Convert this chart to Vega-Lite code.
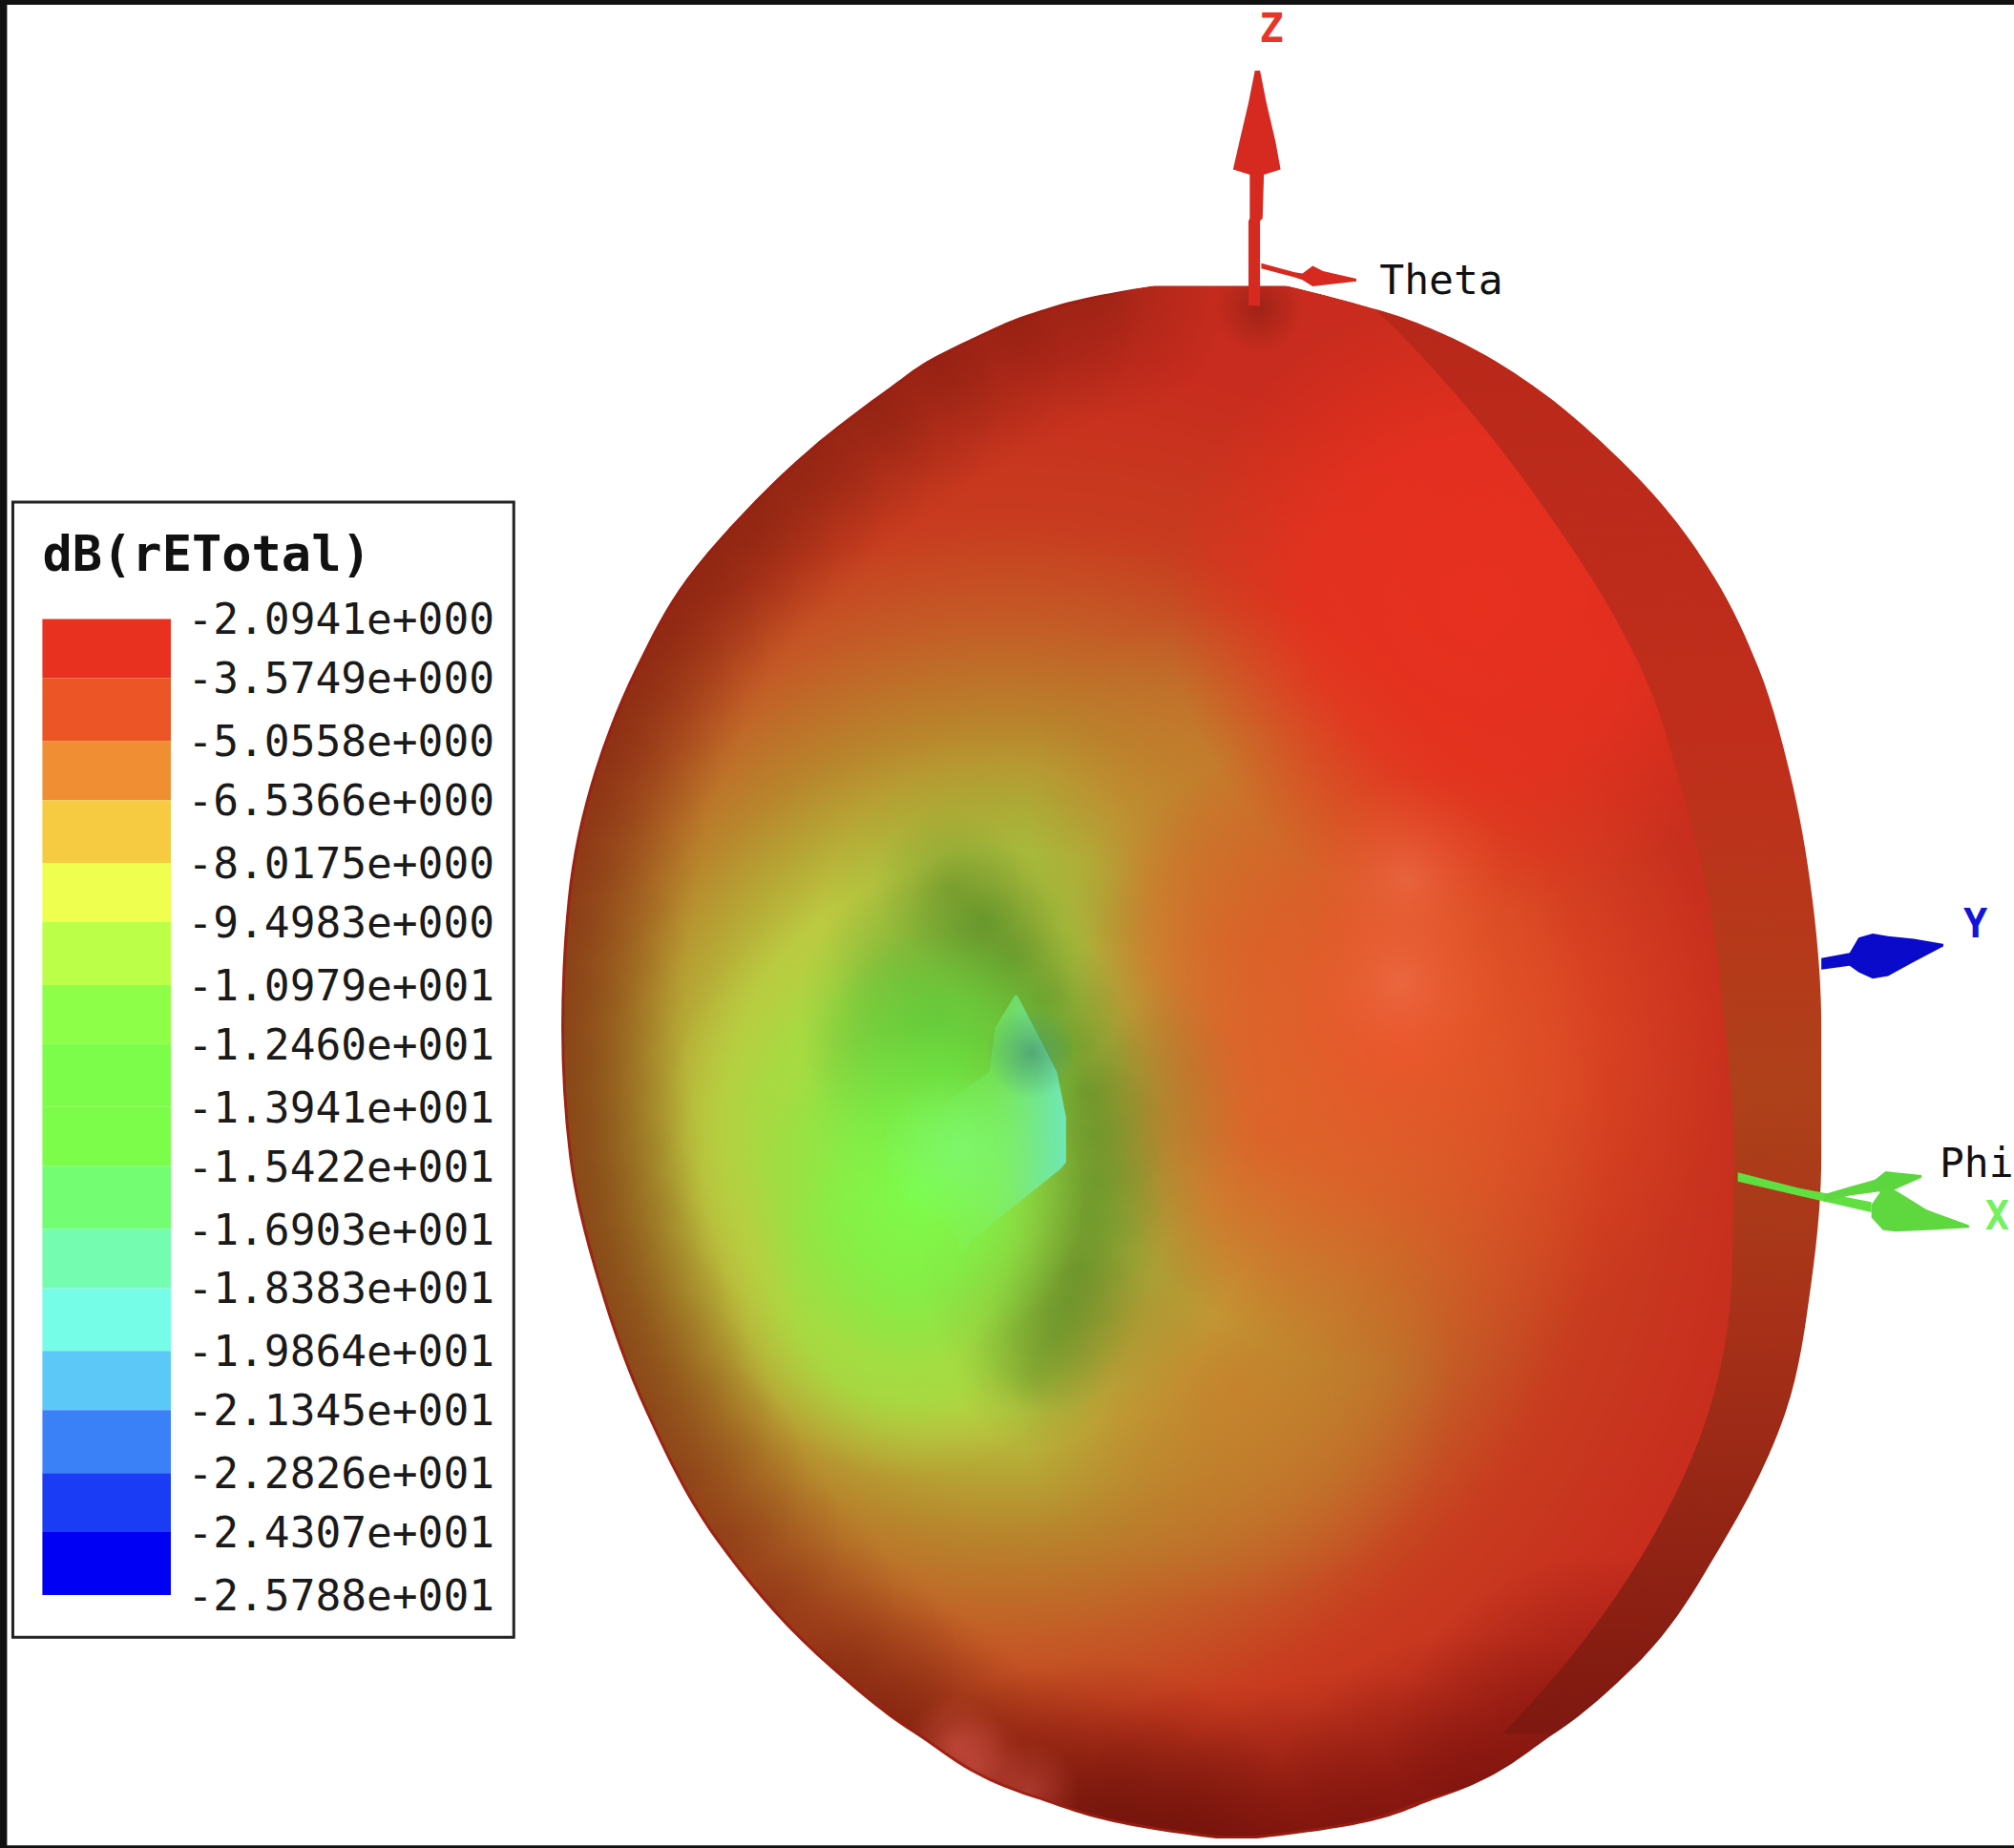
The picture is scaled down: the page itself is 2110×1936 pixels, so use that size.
{
"$schema":"https://vega.github.io/schema/vega-lite/v6.json",
"width":2110,"height":1936,"padding":0,"autosize":{"type":"none"},
"background":"#ffffff",
"config":{"view":{"stroke":null}},
"datasets":{
"outline":[{"y":222,"x":900,"x2":1000},{"y":232,"x":845,"x2":1040},{"y":245,"x":800,"x2":1085},{"y":262,"x":760,"x2":1128},{"y":281,"x":722,"x2":1164},{"y":300,"x":695,"x2":1193},{"y":350,"x":630,"x2":1253},{"y":400,"x":578,"x2":1300},{"y":450,"x":535,"x2":1335},{"y":520,"x":495,"x2":1369},{"y":600,"x":463,"x2":1393},{"y":700,"x":442,"x2":1411},{"y":800,"x":437,"x2":1418},{"y":900,"x":443,"x2":1418},{"y":1000,"x":466,"x2":1410},{"y":1100,"x":503,"x2":1390},{"y":1200,"x":558,"x2":1342},{"y":1300,"x":648,"x2":1270},{"y":1350,"x":712,"x2":1210},{"y":1400,"x":805,"x2":1120},{"y":1425,"x":900,"x2":1030},{"y":1432,"x":950,"x2":975}],
"rimPath":[{"y":170,"x":1000,"x2":1620},{"y":190,"x":930,"x2":1620},{"y":222,"x":885,"x2":1620},{"y":232,"x":845,"x2":1620},{"y":245,"x":800,"x2":1620},{"y":262,"x":760,"x2":1620},{"y":281,"x":722,"x2":1620},{"y":300,"x":695,"x2":1620},{"y":350,"x":630,"x2":1620},{"y":400,"x":578,"x2":1620},{"y":450,"x":535,"x2":1620},{"y":520,"x":495,"x2":1620},{"y":600,"x":463,"x2":1620},{"y":700,"x":442,"x2":1620},{"y":800,"x":437,"x2":1620},{"y":900,"x":443,"x2":1620},{"y":1000,"x":466,"x2":1620},{"y":1100,"x":503,"x2":1620},{"y":1200,"x":558,"x2":1620},{"y":1300,"x":648,"x2":1500},{"y":1350,"x":712,"x2":1300},{"y":1400,"x":805,"x2":1120},{"y":1425,"x":900,"x2":1030},{"y":1432,"x":950,"x2":975}],
"sideband":[{"y":240,"x":1070,"x2":1500},{"y":262,"x":1092,"x2":1500},{"y":329,"x":1152,"x2":1500},{"y":401,"x":1206,"x2":1500},{"y":470,"x":1251,"x2":1500},{"y":545,"x":1288,"x2":1500},{"y":600,"x":1305,"x2":1500},{"y":700,"x":1330,"x2":1500},{"y":800,"x":1343,"x2":1500},{"y":900,"x":1350,"x2":1500},{"y":1000,"x":1348,"x2":1500},{"y":1100,"x":1330,"x2":1500},{"y":1200,"x":1285,"x2":1500},{"y":1300,"x":1215,"x2":1500},{"y":1350,"x":1170,"x2":1500}],
"cone":[{"y":775,"x":790,"x2":792},{"y":800,"x":775,"x2":805},{"y":835,"x":770,"x2":823},{"y":870,"x":720,"x2":830},{"y":905,"x":690,"x2":830},{"y":910,"x":705,"x2":826},{"y":965,"x":745,"x2":757},{"y":975,"x":748,"x2":750}],
"rimGlow":[{"x":760,"x2":960,"y":128,"y2":328},{"x":690,"x2":890,"y":150,"y2":350},{"x":630,"x2":830,"y":180,"y2":380},{"x":580,"x2":780,"y":215,"y2":415},{"x":530,"x2":730,"y":250,"y2":450},{"x":490,"x2":690,"y":290,"y2":490},{"x":455,"x2":655,"y":325,"y2":525},{"x":425,"x2":625,"y":365,"y2":565},{"x":400,"x2":600,"y":410,"y2":610},{"x":380,"x2":580,"y":455,"y2":655},{"x":362,"x2":562,"y":500,"y2":700},{"x":350,"x2":550,"y":550,"y2":750},{"x":342,"x2":542,"y":600,"y2":800},{"x":338,"x2":538,"y":650,"y2":850},{"x":337,"x2":537,"y":700,"y2":900},{"x":340,"x2":540,"y":750,"y2":950},{"x":347,"x2":547,"y":800,"y2":1000},{"x":353,"x2":553,"y":850,"y2":1050},{"x":366,"x2":566,"y":900,"y2":1100},{"x":383,"x2":583,"y":950,"y2":1150},{"x":403,"x2":603,"y":1000,"y2":1200},{"x":428,"x2":628,"y":1050,"y2":1250},{"x":458,"x2":658,"y":1100,"y2":1300},{"x":500,"x2":700,"y":1150,"y2":1350},{"x":548,"x2":748,"y":1200,"y2":1400},{"x":580,"x2":780,"y":1230,"y2":1430},{"x":610,"x2":810,"y":1250,"y2":1450},{"x":655,"x2":855,"y":1280,"y2":1480},{"x":705,"x2":905,"y":1300,"y2":1500},{"x":760,"x2":960,"y":1320,"y2":1520},{"x":820,"x2":1020,"y":1335,"y2":1535}],
"bottomGlow":[{"x":680,"x2":1020,"y":1290,"y2":1630},{"x":780,"x2":1120,"y":1310,"y2":1650},{"x":880,"x2":1220,"y":1300,"y2":1640},{"x":980,"x2":1320,"y":1270,"y2":1610},{"x":1080,"x2":1420,"y":1210,"y2":1550}],
"ridge":[{"x":680,"x2":800,"y":630,"y2":750},{"x":705,"x2":825,"y":655,"y2":775},{"x":730,"x2":850,"y":685,"y2":805},{"x":752,"x2":872,"y":720,"y2":840},{"x":770,"x2":890,"y":755,"y2":875},{"x":785,"x2":905,"y":790,"y2":910},{"x":792,"x2":912,"y":825,"y2":945},{"x":793,"x2":913,"y":860,"y2":980},{"x":790,"x2":910,"y":890,"y2":1010},{"x":782,"x2":902,"y":925,"y2":1045},{"x":772,"x2":892,"y":955,"y2":1075},{"x":760,"x2":880,"y":980,"y2":1100},{"x":745,"x2":865,"y":1010,"y2":1130}],
"ridgeHalo":[{"x":640,"x2":900,"y":590,"y2":850},{"x":730,"x2":970,"y":740,"y2":980},{"x":715,"x2":955,"y":870,"y2":1110}],
"legendBands":[
{"level":"-2.0941e+000","top":482,"bottom":528},{"level":"-3.5749e+000","top":528,"bottom":577},{"level":"-5.0558e+000","top":577,"bottom":623},{"level":"-6.5366e+000","top":623,"bottom":672},{"level":"-8.0175e+000","top":672,"bottom":718},{"level":"-9.4983e+000","top":718,"bottom":767},{"level":"-1.0979e+001","top":767,"bottom":813},{"level":"-1.2460e+001","top":813,"bottom":862},{"level":"-1.3941e+001","top":862,"bottom":908},{"level":"-1.5422e+001","top":908,"bottom":957},{"level":"-1.6903e+001","top":957,"bottom":1003},{"level":"-1.8383e+001","top":1003,"bottom":1052},{"level":"-1.9864e+001","top":1052,"bottom":1098},{"level":"-2.1345e+001","top":1098,"bottom":1147},{"level":"-2.2826e+001","top":1147,"bottom":1193},{"level":"-2.4307e+001","top":1193,"bottom":1242}],
"legendLabels":[
{"label":"-2.0941e+000","y":482},{"label":"-3.5749e+000","y":528},{"label":"-5.0558e+000","y":577},{"label":"-6.5366e+000","y":623},{"label":"-8.0175e+000","y":672},{"label":"-9.4983e+000","y":718},{"label":"-1.0979e+001","y":767},{"label":"-1.2460e+001","y":813},{"label":"-1.3941e+001","y":862},{"label":"-1.5422e+001","y":908},{"label":"-1.6903e+001","y":957},{"label":"-1.8383e+001","y":1003},{"label":"-1.9864e+001","y":1052},{"label":"-2.1345e+001","y":1098},{"label":"-2.2826e+001","y":1147},{"label":"-2.4307e+001","y":1193},{"label":"-2.5788e+001","y":1242}],
"zArrow":[{"y":55,"x":977,"x2":981},{"y":80,"x":972,"x2":986},{"y":110,"x":965,"x2":993},{"y":132,"x":960,"x2":997},{"y":136,"x":973,"x2":984},{"y":170,"x":973,"x2":983},{"y":172,"x":972,"x2":981},{"y":238,"x":972,"x2":981}],
"thetaArrow":[{"x":982,"y":205,"y2":209},{"x":1008,"y":212,"y2":216},{"x":1014,"y":213,"y2":218},{"x":1022,"y":207,"y2":223},{"x":1030,"y":211,"y2":222},{"x":1056,"y":217,"y2":219}],
"blueArrow":[{"x":1418,"y":746,"y2":755},{"x":1440,"y":742,"y2":752},{"x":1447,"y":730,"y2":757},{"x":1458,"y":727,"y2":762},{"x":1470,"y":729,"y2":760},{"x":1490,"y":731,"y2":749},{"x":1513,"y":735,"y2":737}],
"greenStem":[{"x":1353,"y":913,"y2":920},{"x":1400,"y":925,"y2":931},{"x":1457,"y":936,"y2":944}],
"greenStem2":[{"x":1420,"y":930,"y2":936},{"x":1440,"y":924,"y2":931},{"x":1462,"y":918,"y2":928}],
"greenCone":[{"x":1457,"y":938,"y2":948},{"x":1466,"y":925,"y2":958},{"x":1476,"y":927,"y2":959},{"x":1500,"y":942,"y2":958},{"x":1533,"y":954,"y2":956}],
"greenCone2":[{"x":1458,"y":920,"y2":926},{"x":1468,"y":912,"y2":930},{"x":1476,"y":913,"y2":926},{"x":1496,"y":915,"y2":917}]
},
"encoding":{
"x":{"type":"quantitative","scale":{"domain":[0,1568],"nice":false,"zero":false},"axis":null},
"y":{"type":"quantitative","scale":{"domain":[1439,0],"nice":false,"zero":false},"axis":null}
},
"layer":[
{"data":{"name":"outline"},
 "mark":{"type":"area","orient":"horizontal","interpolate":"monotone",
  "fill":{"gradient":"radial","x1":0.378,"y1":0.544,"r1":0,"x2":0.378,"y2":0.544,"r2":1,
   "stops":[{"offset":0,"color":"#bccf42"},{"offset":0.18,"color":"#bcc840"},{"offset":0.215,"color":"#b6aa36"},{"offset":0.26,"color":"#b8852c"},{"offset":0.33,"color":"#c45a26"},{"offset":0.39,"color":"#c83c1f"},{"offset":0.5,"color":"#c82c1e"},{"offset":1,"color":"#cc2c1e"}]}},
 "encoding":{"x":{"field":"x"},"x2":{"field":"x2"},"y":{"field":"y"}}},

{"data":{"values":[{"x":840,"x2":1130,"y":740,"y2":1030},{"x":800,"x2":1120,"y":470,"y2":790},{"x":790,"x2":1130,"y":910,"y2":1250},{"x":830,"x2":1090,"y":600,"y2":860}]},
 "mark":{"type":"rect","fill":{"gradient":"radial","x1":0.5,"y1":0.5,"r1":0,"x2":0.5,"y2":0.5,"r2":0.5,
  "stops":[{"offset":0,"color":"rgba(200,125,44,0.85)"},{"offset":0.55,"color":"rgba(197,122,44,0.5)"},{"offset":1,"color":"rgba(190,120,46,0)"}]}},
 "encoding":{"x":{"field":"x"},"x2":{"field":"x2"},"y":{"field":"y"},"y2":{"field":"y2"}}},

{"data":{"values":[{"x":515,"x2":895,"y":690,"y2":1070},{"x":560,"x2":850,"y":860,"y2":1150}]},
 "mark":{"type":"rect","fill":{"gradient":"radial","x1":0.5,"y1":0.5,"r1":0,"x2":0.5,"y2":0.5,"r2":0.5,
  "stops":[{"offset":0,"color":"rgba(146,232,68,1)"},{"offset":0.6,"color":"rgba(160,224,66,0.7)"},{"offset":1,"color":"rgba(188,207,66,0)"}]}},
 "encoding":{"x":{"field":"x"},"x2":{"field":"x2"},"y":{"field":"y"},"y2":{"field":"y2"}}},

{"data":{"values":[{"x":620,"x2":840,"y":680,"y2":900}]},
 "mark":{"type":"rect","fill":{"gradient":"radial","x1":0.5,"y1":0.5,"r1":0,"x2":0.5,"y2":0.5,"r2":0.5,
  "stops":[{"offset":0,"color":"rgba(108,190,58,0.9)"},{"offset":0.55,"color":"rgba(115,190,58,0.55)"},{"offset":1,"color":"rgba(130,190,60,0)"}]}},
 "encoding":{"x":{"field":"x"},"x2":{"field":"x2"},"y":{"field":"y"},"y2":{"field":"y2"}}},

{"data":{"values":[{"x":830,"x2":1350,"y":550,"y2":1070}]},
 "mark":{"type":"rect","fill":{"gradient":"radial","x1":0.5,"y1":0.5,"r1":0,"x2":0.5,"y2":0.5,"r2":0.5,
  "stops":[{"offset":0,"color":"rgba(236,84,42,0.95)"},{"offset":0.5,"color":"rgba(234,74,38,0.6)"},{"offset":1,"color":"rgba(232,60,32,0)"}]}},
 "encoding":{"x":{"field":"x"},"x2":{"field":"x2"},"y":{"field":"y"},"y2":{"field":"y2"}}},
{"data":{"values":[{"x":910,"x2":1390,"y":230,"y2":710}]},
 "mark":{"type":"rect","fill":{"gradient":"radial","x1":0.5,"y1":0.5,"r1":0,"x2":0.5,"y2":0.5,"r2":0.5,
  "stops":[{"offset":0,"color":"rgba(232,48,31,1)"},{"offset":0.55,"color":"rgba(232,48,31,0.8)"},{"offset":1,"color":"rgba(232,48,31,0)"}]}},
 "encoding":{"x":{"field":"x"},"x2":{"field":"x2"},"y":{"field":"y"},"y2":{"field":"y2"}}},
{"data":{"values":[{"x":1015,"x2":1175,"y":605,"y2":765},{"x":1005,"x2":1175,"y":680,"y2":850}]},
 "mark":{"type":"rect","fill":{"gradient":"radial","x1":0.5,"y1":0.5,"r1":0,"x2":0.5,"y2":0.5,"r2":0.5,
  "stops":[{"offset":0,"color":"rgba(240,112,78,0.6)"},{"offset":0.5,"color":"rgba(238,96,60,0.3)"},{"offset":1,"color":"rgba(236,84,42,0)"}]}},
 "encoding":{"x":{"field":"x"},"x2":{"field":"x2"},"y":{"field":"y"},"y2":{"field":"y2"}}},

{"data":{"name":"ridgeHalo"},
 "mark":{"type":"rect","fill":{"gradient":"radial","x1":0.5,"y1":0.5,"r1":0,"x2":0.5,"y2":0.5,"r2":0.5,
  "stops":[{"offset":0,"color":"rgba(90,130,40,0.4)"},{"offset":0.5,"color":"rgba(95,130,40,0.22)"},{"offset":1,"color":"rgba(100,130,45,0)"}]}},
 "encoding":{"x":{"field":"x"},"x2":{"field":"x2"},"y":{"field":"y"},"y2":{"field":"y2"}}},
{"data":{"name":"ridge"},
 "mark":{"type":"rect","fill":{"gradient":"radial","x1":0.5,"y1":0.5,"r1":0,"x2":0.5,"y2":0.5,"r2":0.5,
  "stops":[{"offset":0,"color":"rgba(55,120,28,0.27)"},{"offset":0.5,"color":"rgba(60,122,30,0.12)"},{"offset":1,"color":"rgba(65,125,32,0)"}]}},
 "encoding":{"x":{"field":"x"},"x2":{"field":"x2"},"y":{"field":"y"},"y2":{"field":"y2"}}},

{"data":{"values":[{"x":625,"x2":845,"y":725,"y2":945}]},
 "mark":{"type":"rect","fill":{"gradient":"radial","x1":0.5,"y1":0.5,"r1":0,"x2":0.5,"y2":0.5,"r2":0.5,
  "stops":[{"offset":0,"color":"rgba(96,218,60,0.85)"},{"offset":0.55,"color":"rgba(100,215,60,0.5)"},{"offset":1,"color":"rgba(100,205,60,0)"}]}},
 "encoding":{"x":{"field":"x"},"x2":{"field":"x2"},"y":{"field":"y"},"y2":{"field":"y2"}}},
{"data":{"values":[{"x":585,"x2":845,"y":800,"y2":1060}]},
 "mark":{"type":"rect","fill":{"gradient":"radial","x1":0.5,"y1":0.5,"r1":0,"x2":0.5,"y2":0.5,"r2":0.5,
  "stops":[{"offset":0,"color":"rgba(124,253,74,1)"},{"offset":0.5,"color":"rgba(124,245,72,0.65)"},{"offset":1,"color":"rgba(130,230,70,0)"}]}},
 "encoding":{"x":{"field":"x"},"x2":{"field":"x2"},"y":{"field":"y"},"y2":{"field":"y2"}}},

{"data":{"name":"cone"},
 "mark":{"type":"area","orient":"horizontal","fill":{"gradient":"linear","x1":0,"y1":0.5,"x2":1,"y2":0.5,
  "stops":[{"offset":0,"color":"rgba(124,253,100,0)"},{"offset":0.3,"color":"rgba(124,253,110,0.05)"},{"offset":0.6,"color":"rgba(120,250,130,0.35)"},{"offset":0.8,"color":"rgba(115,240,150,0.78)"},{"offset":1,"color":"#6fe8b8"}]}},
 "encoding":{"x":{"field":"x"},"x2":{"field":"x2"},"y":{"field":"y"}}},
{"data":{"values":[{"x":685,"x2":805,"y":835,"y2":955}]},
 "mark":{"type":"rect","fill":{"gradient":"radial","x1":0.5,"y1":0.5,"r1":0,"x2":0.5,"y2":0.5,"r2":0.5,
  "stops":[{"offset":0,"color":"rgba(125,250,125,0.6)"},{"offset":1,"color":"rgba(125,250,125,0)"}]}},
 "encoding":{"x":{"field":"x"},"x2":{"field":"x2"},"y":{"field":"y"},"y2":{"field":"y2"}}},
{"data":{"values":[{"x":755,"x2":835,"y":780,"y2":860}]},
 "mark":{"type":"rect","fill":{"gradient":"radial","x1":0.6,"y1":0.5,"r1":0,"x2":0.6,"y2":0.5,"r2":0.45,
  "stops":[{"offset":0,"color":"rgba(70,145,110,0.7)"},{"offset":1,"color":"rgba(70,145,110,0)"}]}},
 "encoding":{"x":{"field":"x"},"x2":{"field":"x2"},"y":{"field":"y"},"y2":{"field":"y2"}}},

{"data":{"name":"rimGlow"},
 "mark":{"type":"rect","fill":{"gradient":"radial","x1":0.5,"y1":0.5,"r1":0,"x2":0.5,"y2":0.5,"r2":0.5,
  "stops":[{"offset":0,"color":"rgba(85,20,5,0.3)"},{"offset":0.5,"color":"rgba(85,20,5,0.14)"},{"offset":1,"color":"rgba(85,20,5,0)"}]}},
 "encoding":{"x":{"field":"x"},"x2":{"field":"x2"},"y":{"field":"y"},"y2":{"field":"y2"}}},
{"data":{"name":"bottomGlow"},
 "mark":{"type":"rect","fill":{"gradient":"radial","x1":0.5,"y1":0.5,"r1":0,"x2":0.5,"y2":0.5,"r2":0.5,
  "stops":[{"offset":0,"color":"rgba(100,12,8,0.65)"},{"offset":0.5,"color":"rgba(100,12,8,0.35)"},{"offset":1,"color":"rgba(100,12,8,0)"}]}},
 "encoding":{"x":{"field":"x"},"x2":{"field":"x2"},"y":{"field":"y"},"y2":{"field":"y2"}}},

{"data":{"values":[{"x":705,"x2":785,"y":1320,"y2":1400},{"x":720,"x2":800,"y":1335,"y2":1415},{"x":760,"x2":840,"y":1355,"y2":1435}]},
 "mark":{"type":"rect","fill":{"gradient":"radial","x1":0.5,"y1":0.5,"r1":0,"x2":0.5,"y2":0.5,"r2":0.5,
  "stops":[{"offset":0,"color":"rgba(225,95,85,0.42)"},{"offset":1,"color":"rgba(225,95,85,0)"}]}},
 "encoding":{"x":{"field":"x"},"x2":{"field":"x2"},"y":{"field":"y"},"y2":{"field":"y2"}}},

{"data":{"name":"sideband"},
 "mark":{"type":"area","orient":"horizontal","interpolate":"monotone",
  "fill":{"gradient":"linear","x1":0.5,"y1":0,"x2":0.5,"y2":1,
   "stops":[{"offset":0,"color":"#b8281a"},{"offset":0.3,"color":"#c02e1b"},{"offset":0.55,"color":"#ae411a"},{"offset":0.72,"color":"#a63018"},{"offset":1,"color":"#7e1810"}]}},
 "encoding":{"x":{"field":"x"},"x2":{"field":"x2"},"y":{"field":"y"}}},

{"data":{"values":[{"x":945,"x2":1015,"y":205,"y2":275}]},
 "mark":{"type":"rect","fill":{"gradient":"radial","x1":0.5,"y1":0.5,"r1":0,"x2":0.5,"y2":0.5,"r2":0.5,
  "stops":[{"offset":0,"color":"rgba(120,25,15,0.5)"},{"offset":1,"color":"rgba(120,25,15,0)"}]}},
 "encoding":{"x":{"field":"x"},"x2":{"field":"x2"},"y":{"field":"y"},"y2":{"field":"y2"}}},

{"data":{"name":"rimPath"},"mark":{"type":"area","orient":"horizontal","interpolate":"monotone","fillOpacity":0,"stroke":"#9c1e12","strokeOpacity":0.85,"strokeWidth":6},"encoding":{"x":{"field":"x"},"x2":{"field":"x2"},"y":{"field":"y"}}},

{"data":{"name":"outline"},"mark":{"type":"area","orient":"horizontal","interpolate":"monotone","fill":"#ffffff"},
 "encoding":{"x":{"field":"x"},"x2":{"datum":0},"y":{"field":"y"}}},
{"data":{"name":"outline"},"mark":{"type":"area","orient":"horizontal","interpolate":"monotone","fill":"#ffffff"},
 "encoding":{"x":{"field":"x2"},"x2":{"datum":1568},"y":{"field":"y"}}},
{"data":{"values":[{"x":0,"x2":1568,"y":0,"y2":222.6},{"x":0,"x2":1568,"y":1431.5,"y2":1439}]},
 "mark":{"type":"rect","fill":"#ffffff"},
 "encoding":{"x":{"field":"x"},"x2":{"field":"x2"},"y":{"field":"y"},"y2":{"field":"y2"}}},

{"data":{"values":[{"x":0,"x2":5.5,"y":0,"y2":1439},{"x":0,"x2":1568,"y":0,"y2":3.7},{"x":0,"x2":1568,"y":1437,"y2":1439}]},
 "mark":{"type":"rect","fill":"#111111"},
 "encoding":{"x":{"field":"x"},"x2":{"field":"x2"},"y":{"field":"y"},"y2":{"field":"y2"}}},

{"data":{"name":"zArrow"},
 "mark":{"type":"area","orient":"horizontal","fill":"#d62a20"},
 "encoding":{"x":{"field":"x"},"x2":{"field":"x2"},"y":{"field":"y"}}},
{"data":{"name":"thetaArrow"},
 "mark":{"type":"area","orient":"vertical","fill":"#d62a20"},
 "encoding":{"x":{"field":"x"},"y":{"field":"y"},"y2":{"field":"y2"}}},
{"data":{"name":"blueArrow"},
 "mark":{"type":"area","orient":"vertical","fill":"#0a0acb"},
 "encoding":{"x":{"field":"x"},"y":{"field":"y"},"y2":{"field":"y2"}}},
{"data":{"name":"greenStem"},
 "mark":{"type":"area","orient":"vertical","fill":"#5fe040"},
 "encoding":{"x":{"field":"x"},"y":{"field":"y"},"y2":{"field":"y2"}}},
{"data":{"name":"greenStem2"},
 "mark":{"type":"area","orient":"vertical","fill":"#5fd840"},
 "encoding":{"x":{"field":"x"},"y":{"field":"y"},"y2":{"field":"y2"}}},
{"data":{"name":"greenCone2"},
 "mark":{"type":"area","orient":"vertical","fill":"#5cd63e"},
 "encoding":{"x":{"field":"x"},"y":{"field":"y"},"y2":{"field":"y2"}}},
{"data":{"name":"greenCone"},
 "mark":{"type":"area","orient":"vertical","fill":"#5fd840"},
 "encoding":{"x":{"field":"x"},"y":{"field":"y"},"y2":{"field":"y2"}}},

{"data":{"values":[{"x":10,"x2":400,"y":391,"y2":1275}]},
 "mark":{"type":"rect","fill":"#ffffff","stroke":"#222222","strokeWidth":3},
 "encoding":{"x":{"field":"x"},"x2":{"field":"x2"},"y":{"field":"y"},"y2":{"field":"y2"}}},
{"data":{"name":"legendBands"},
 "mark":{"type":"rect"},
 "encoding":{"x":{"datum":33},"x2":{"datum":133},"y":{"field":"top"},"y2":{"field":"bottom"},
  "color":{"field":"level","type":"ordinal","legend":null,"sort":null,
   "scale":{"domain":["-2.0941e+000","-3.5749e+000","-5.0558e+000","-6.5366e+000","-8.0175e+000","-9.4983e+000","-1.0979e+001","-1.2460e+001","-1.3941e+001","-1.5422e+001","-1.6903e+001","-1.8383e+001","-1.9864e+001","-2.1345e+001","-2.2826e+001","-2.4307e+001"],
   "range":["#e8311f","#ec5526","#ef8e33","#f6cb41","#eeff4f","#bcff48","#8eff48","#7cfd4a","#7cfd4a","#72fd72","#74fdb0","#76fde8","#5cc8f8","#3a80f6","#1a3cf5","#0000f5"]}}}},
{"data":{"name":"legendLabels"},
 "mark":{"type":"text","align":"left","baseline":"middle","dy":3,"font":"DejaVu Sans Mono","fontSize":44.5,"fill":"#1a1a1a"},
 "encoding":{"x":{"datum":146},"y":{"field":"y"},"text":{"field":"label"}}},
{"data":{"values":[{"x":33,"y":431,"t":"dB(rETotal)"}]},
 "mark":{"type":"text","align":"left","baseline":"middle","dy":2,"font":"DejaVu Sans Mono","fontWeight":"bold","fontSize":52,"fill":"#111111"},
 "encoding":{"x":{"field":"x"},"y":{"field":"y"},"text":{"field":"t"}}},
{"data":{"values":[{"x":1074,"y":218,"t":"Theta"},{"x":1510,"y":905,"t":"Phi"}]},
 "mark":{"type":"text","align":"left","baseline":"middle","dy":2,"font":"DejaVu Sans Mono","fontSize":43,"fill":"#111111"},
 "encoding":{"x":{"field":"x"},"y":{"field":"y"},"text":{"field":"t"}}},
{"data":{"values":[{"x":990,"y":22,"t":"Z"}]},
 "mark":{"type":"text","align":"center","baseline":"middle","dy":1,"font":"DejaVu Sans Mono","fontWeight":"bold","fontSize":42,"fill":"#e8352a"},
 "encoding":{"x":{"field":"x"},"y":{"field":"y"},"text":{"field":"t"}}},
{"data":{"values":[{"x":1538,"y":720,"t":"Y"}]},
 "mark":{"type":"text","align":"center","baseline":"middle","font":"DejaVu Sans Mono","fontWeight":"bold","fontSize":42,"fill":"#1414d8"},
 "encoding":{"x":{"field":"x"},"y":{"field":"y"},"text":{"field":"t"}}},
{"data":{"values":[{"x":1555,"y":948,"t":"X"}]},
 "mark":{"type":"text","align":"center","baseline":"middle","font":"DejaVu Sans Mono","fontWeight":"bold","fontSize":42,"fill":"#74f060"},
 "encoding":{"x":{"field":"x"},"y":{"field":"y"},"text":{"field":"t"}}}
]
}
